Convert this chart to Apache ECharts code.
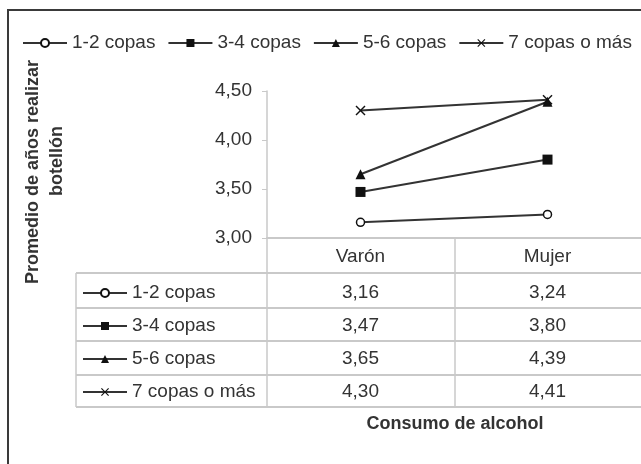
<!DOCTYPE html>
<html>
<head>
<meta charset="utf-8">
<script src="https://cdn.jsdelivr.net/npm/echarts@6/dist/echarts.min.js"></script>
<style>
html,body{margin:0;padding:0;background:#fff;}
#main{width:641px;height:464px;}
</style>
</head>
<body>
<div id="main"></div>
<script>
// categorias (eje x)
var categorias = ['Varón', 'Mujer'];
// series
var nombres = ['1-2 copas', '3-4 copas', '5-6 copas', '7 copas o más'];
var copas12 = [3.16, 3.24];
var copas34 = [3.47, 3.80];
var copas56 = [3.65, 4.39];
var copas7 = [4.30, 4.41];
var valores = [copas12, copas34, copas56, copas7];
// eje y
var yTicks = [3.00, 3.50, 4.00, 4.50];

var fuente = '"Liberation Sans", Arial, sans-serif';
var gris = '#c9c9c9';
var linea = '#333';
// centro vertical de cada fila de la tabla
var filaY = [293, 326, 359, 392];

function fmt(v){
    return v.toFixed(2).replace('.', ',');
}

var simbolos = [
    {symbol: 'circle', size: 8, fill: '#fff'},
    {symbol: 'rect', size: 10, fill: '#111'},
    {symbol: 'triangle', size: 10, fill: '#111'},
    {symbol: 'path://M0,1L1,0L5,4L9,0L10,1L6,5L10,9L9,10L5,6L1,10L0,9L4,5Z', size: 10, fill: '#111'}
];

var series = [];
for (let i = 0; i < nombres.length; i++) {
    series.push({
        name: nombres[i],
        type: 'line',
        data: valores[i],
        symbol: simbolos[i].symbol,
        symbolSize: simbolos[i].size,
        lineStyle: {color: linea, width: 2},
        itemStyle: {color: simbolos[i].fill, borderColor: '#111', borderWidth: i == 0 ? 1.5 : 0}
    });
}

var xAxes = [{
    type: 'category',
    data: categorias,
    gridIndex: 0,
    axisLine: {show: true, lineStyle: {color: gris, width: 2}},
    axisTick: {show: false},
    axisLabel: {margin: 19, verticalAlign: 'middle', fontSize: 19, color: '#333', fontFamily: fuente}
}];
// filas de la tabla de datos como ejes extra
for (let r = 0; r < nombres.length; r++) {
    xAxes.push({
        type: 'category',
        data: categorias,
        gridIndex: 0,
        position: 'bottom',
        offset: filaY[r] - 238,
        axisLine: {show: false},
        axisTick: {show: false},
        axisLabel: {
            margin: 0,
            verticalAlign: 'middle',
            fontSize: 19,
            color: '#333',
            fontFamily: fuente,
            formatter: function(v, idx){ return fmt(valores[r][idx]); }
        }
    });
}

var leyendas = [{
    data: nombres,
    left: 22,
    top: 33,
    right: 0,
    padding: 0,
    itemWidth: 44,
    itemHeight: 10,
    itemGap: 12,
    selectedMode: false,
    textStyle: {fontSize: 19, color: '#333', fontFamily: fuente, lineHeight: 20}
}];
for (let r = 0; r < nombres.length; r++) {
    leyendas.push({
        data: [nombres[r]],
        left: 82,
        top: filaY[r] - 10,
        padding: 0,
        itemWidth: 44,
        itemHeight: 10,
        selectedMode: false,
        textStyle: {fontSize: 19, color: '#333', fontFamily: fuente, lineHeight: 20}
    });
}

function hline(x1, x2, y, w){
    return {type: 'line', shape: {x1: x1, y1: y, x2: x2, y2: y}, style: {stroke: gris, lineWidth: w || 2}, silent: true};
}
function vline(x, y1, y2){
    return {type: 'line', shape: {x1: x, y1: y1, x2: x, y2: y2}, style: {stroke: gris, lineWidth: 1.5}, silent: true};
}

var option = {
    animation: false,
    backgroundColor: '#fff',
    grid: {left: 267, top: 91, right: 0, bottom: 226, containLabel: false},
    legend: leyendas,
    xAxis: xAxes,
    yAxis: {
        type: 'value',
        min: yTicks[0],
        max: yTicks[yTicks.length - 1],
        interval: 0.5,
        axisLine: {show: true, lineStyle: {color: gris, width: 1.5}},
        axisTick: {show: true, length: 5, lineStyle: {color: gris}},
        splitLine: {show: false},
        axisLabel: {margin: 15, fontSize: 19, color: '#333', fontFamily: fuente, formatter: fmt}
    },
    series: series,
    graphic: [
        // marco exterior
        {type: 'rect', shape: {x: 8, y: 10, width: 700, height: 500}, style: {fill: 'none', stroke: '#3a3a3a', lineWidth: 2}, silent: true},
        // tabla
        hline(76, 641, 273),
        hline(76, 641, 308),
        hline(76, 641, 341),
        hline(76, 641, 375),
        hline(76, 641, 407),
        vline(76, 273, 407),
        vline(267, 238, 407),
        vline(455, 238, 407),
        // titulos
        {type: 'text', x: 455, y: 424, style: {text: 'Consumo de alcohol', font: 'bold 18px ' + fuente, fill: '#333', align: 'center', verticalAlign: 'middle'}},
        {type: 'text', x: 33, y: 172, rotation: Math.PI / 2, style: {text: 'Promedio de años realizar', font: 'bold 18px ' + fuente, fill: '#333', align: 'center', verticalAlign: 'middle'}},
        {type: 'text', x: 57, y: 161, rotation: Math.PI / 2, style: {text: 'botellón', font: 'bold 18px ' + fuente, fill: '#333', align: 'center', verticalAlign: 'middle'}}
    ]
};

var myChart = echarts.init(document.getElementById('main'));
myChart.setOption(option);
</script>
</body>
</html>
